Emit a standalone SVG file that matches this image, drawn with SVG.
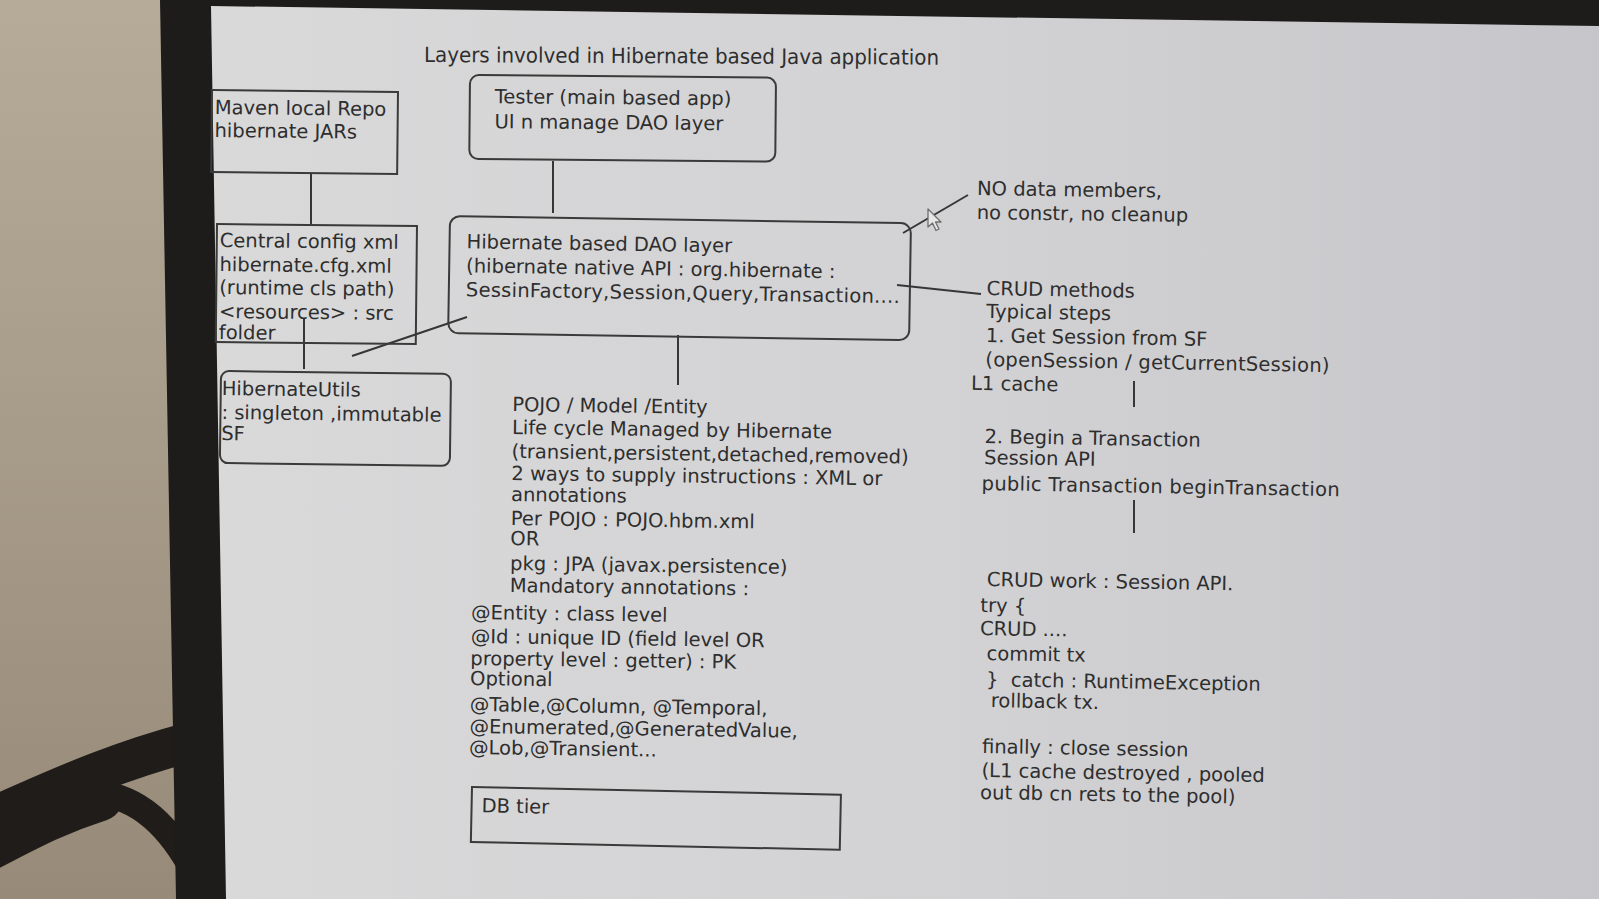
<svg xmlns="http://www.w3.org/2000/svg" width="1599" height="899" viewBox="0 0 1599 899">
<defs>
  <linearGradient id="wall" x1="0" y1="0" x2="0" y2="1">
    <stop offset="0" stop-color="#b6ab99"/>
    <stop offset="1" stop-color="#978a78"/>
  </linearGradient>
  <linearGradient id="scr" x1="0" y1="0" x2="1" y2="0">
    <stop offset="0" stop-color="#d9d9da"/>
    <stop offset="0.55" stop-color="#d2d2d4"/>
    <stop offset="1" stop-color="#c6c6ca"/>
  </linearGradient>
</defs>
<style>
  text{font-family:"DejaVu Sans",Verdana,sans-serif;font-size:19.5px;fill:#2e2e2e}
  .title{font-stretch:condensed;font-size:21px}
  .box{fill:none;stroke:#3a3a3a;stroke-width:2}
  .ln{stroke:#363636;stroke-width:2;fill:none}
  .cable{fill:none;stroke:#1f1c1a;stroke-linecap:round}
  .pre{white-space:pre}
</style>

<g id="scene">
  <rect width="1599" height="899" fill="url(#wall)"/>
  <path class="cable" d="M -20 822 C 40 797, 100 766, 190 742" stroke-width="40"/>
  <path class="cable" d="M 70 795 C 120 785, 160 812, 190 865" stroke-width="26"/>
  <path class="cable" d="M -20 852 C 20 832, 50 814, 100 798" stroke-width="46"/>
  <polygon points="160,0 1599,0 1599,899 176,899" fill="#1d1c1b"/>
  <polygon points="211,6 1599,26 1599,899 226,899" fill="url(#scr)"/>
</g>

<text id="title" class="title" x="424" y="62" textLength="515" lengthAdjust="spacingAndGlyphs" transform="rotate(0.3 424 62)">Layers involved in Hibernate based Java application</text>

<g id="connectors">
  <path class="ln" d="M 311 173 V 224"/>
  <path class="ln" d="M 553 161 V 213"/>
  <path class="ln" d="M 304 318 V 369"/>
  <path class="ln" d="M 352 356 L 467 317"/>
  <path class="ln" d="M 678 335 V 385"/>
  <path class="ln" d="M 903 233 L 968 195"/>
  <path class="ln" d="M 897 285 L 981 294"/>
  <path class="ln" d="M 1134 381 V 407"/>
  <path class="ln" d="M 1134 500 V 533"/>
</g>

<g id="maven" transform="rotate(0.6 212 90)">
  <rect class="box" x="212" y="90" width="186" height="82"/>
  <text x="215" y="114">Maven local Repo</text>
  <text x="215" y="137">hibernate JARs</text>
</g>

<g id="tester" transform="rotate(0.5 470 75)">
  <rect class="box" x="470" y="75" width="306" height="84" rx="9"/>
  <text x="495" y="103">Tester (main based app)</text>
  <text x="495" y="128">UI n manage DAO layer</text>
</g>

<g id="config" transform="rotate(0.6 217 224)">
  <rect class="box" x="217" y="224" width="200" height="118"/>
  <text x="220" y="247">Central config xml</text>
  <text x="220" y="271">hibernate.cfg.xml</text>
  <text x="220" y="294">(runtime cls path)</text>
  <text x="220" y="318">&lt;resources&gt; : src</text>
  <text x="220" y="339">folder</text>
</g>

<g id="hibernateutils" transform="rotate(0.7 221 371)">
  <rect class="box" x="221" y="371" width="230" height="92" rx="8"/>
  <text x="222" y="395">HibernateUtils</text>
  <text x="222" y="419">: singleton ,immutable</text>
  <text x="222" y="440">SF</text>
</g>

<g id="dao" transform="rotate(0.9 450 216)">
  <rect class="box" x="450" y="216" width="461" height="117" rx="10"/>
  <text x="467" y="248">Hibernate based DAO layer</text>
  <text x="467" y="272">(hibernate native API : org.hibernate :</text>
  <text x="467" y="296" textLength="434" lengthAdjust="spacing">SessinFactory,Session,Query,Transaction....</text>
</g>

<g id="pojo" transform="rotate(0.8 511 500)">
  <text x="511" y="411">POJO / Model /Entity</text>
  <text x="511" y="434">Life cycle Managed by Hibernate</text>
  <text x="511" y="458">(transient,persistent,detached,removed)</text>
  <text x="511" y="480">2 ways to supply instructions : XML or</text>
  <text x="511" y="501">annotations</text>
  <text x="511" y="525">Per POJO : POJO.hbm.xml</text>
  <text x="511" y="545">OR</text>
  <text x="511" y="570">pkg : JPA (javax.persistence)</text>
  <text x="511" y="592">Mandatory annotations :</text>
</g>

<g id="annotations" transform="rotate(0.8 470 690)">
  <text x="470" y="619">@Entity : class level</text>
  <text x="470" y="643">@Id : unique ID (field level OR</text>
  <text x="470" y="665">property level : getter) : PK</text>
  <text x="470" y="685">Optional</text>
  <text x="470" y="711">@Table,@Column, @Temporal,</text>
  <text x="470" y="733">@Enumerated,@GeneratedValue,</text>
  <text x="470" y="754">@Lob,@Transient...</text>
</g>

<g id="dbtier" transform="rotate(1.2 472 787)">
  <rect class="box" x="472" y="787" width="369" height="55"/>
  <text x="482" y="812">DB tier</text>
</g>

<g id="nodata" transform="rotate(0.8 977 196)">
  <text x="977" y="195">NO data members,</text>
  <text x="977" y="219">no constr, no cleanup</text>
</g>

<g id="cursor" transform="translate(928 209)">
  <polygon points="0,0 0,18 4.5,14 8,21.5 11,20 7.5,13 13,13" fill="#e6e6e6" stroke="#6e6e6e" stroke-width="1.3" stroke-linejoin="round"/>
</g>

<g id="crudsteps" transform="rotate(1 986 330)">
  <text x="986" y="295">CRUD methods</text>
  <text x="986" y="318">Typical steps</text>
  <text x="986" y="342">1. Get Session from SF</text>
  <text x="986" y="366" textLength="344" lengthAdjust="spacing">(openSession / getCurrentSession)</text>
  <text x="972" y="390">L1 cache</text>
</g>

<g id="step2" transform="rotate(1 984 465)">
  <text x="984" y="443">2. Begin a Transaction</text>
  <text x="984" y="464">Session API</text>
  <text x="982" y="490" textLength="358" lengthAdjust="spacing">public Transaction beginTransaction</text>
</g>

<g id="crudwork" transform="rotate(1 985 690)">
  <text x="985" y="586">CRUD work : Session API.</text>
  <text x="979" y="612">try {</text>
  <text x="979" y="635">CRUD ....</text>
  <text x="986" y="660">commit tx</text>
  <text class="pre" x="986" y="686">}  catch : RuntimeException</text>
  <text x="991" y="707">rollback tx.</text>
  <text x="983" y="753">finally : close session</text>
  <text x="983" y="777">(L1 cache destroyed , pooled</text>
  <text x="982" y="799">out db cn rets to the pool)</text>
</g>
</svg>
